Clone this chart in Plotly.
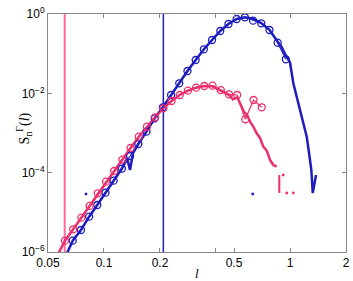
import plotly.graph_objects as go

# ---- data ----
blue_circ_x = [0.0679, 0.0752, 0.0832, 0.0920, 0.1019, 0.1127, 0.1248, 0.1381, 0.1529,
               0.1692, 0.1873, 0.2073, 0.2294, 0.2539, 0.2810, 0.3111, 0.3443, 0.3811,
               0.4218, 0.4668, 0.5167, 0.5719, 0.6330, 0.7006, 0.7754, 0.8582, 0.9499]
blue_circ_y = [1.93e-6, 3.59e-6, 7.77e-6, 1.53e-5, 3.13e-5, 6.28e-5, 1.27e-4, 2.63e-4, 5.28e-4,
               1.08e-3, 2.35e-3, 4.45e-3, 9.08e-3, 1.79e-2, 3.66e-2, 6.92e-2, 0.129, 0.221,
               0.373, 0.560, 0.748, 0.826, 0.678, 0.583, 0.395, 0.189, 0.0721]

blue_line_x = [0.0602, 0.0679, 0.0752, 0.0832, 0.0920, 0.1019, 0.1127, 0.1248, 0.1330, 0.1380,
               0.1432, 0.1529, 0.1692, 0.1873, 0.2073, 0.2294, 0.2539, 0.2810, 0.3111, 0.3443,
               0.3811, 0.4218, 0.4668, 0.5167, 0.5719, 0.6330, 0.7006, 0.7754, 0.8582, 0.9000,
               0.9499, 1.000, 1.042, 1.132, 1.230, 1.281, 1.302, 1.325, 1.350, 1.380]
blue_line_y = [5.6e-7, 1.93e-6, 3.59e-6, 7.77e-6, 1.53e-5, 3.13e-5, 6.28e-5, 1.27e-4, 2.34e-4, 1.17e-4,
               3.13e-4, 5.28e-4, 1.08e-3, 2.35e-3, 4.45e-3, 9.08e-3, 1.79e-2, 3.66e-2, 6.92e-2, 0.129,
               0.221, 0.373, 0.560, 0.748, 0.830, 0.760, 0.590, 0.400, 0.200, 0.150,
               0.090, 0.060, 0.0179, 3.8e-3, 8.07e-4, 2.09e-4, 1.17e-4, 3.08e-5, 5.0e-5, 8.74e-5]

pink_circ_x = [0.0617, 0.0683, 0.0756, 0.0837, 0.0926, 0.1025, 0.1134, 0.1255, 0.1389, 0.1538,
               0.1702, 0.1884, 0.2085, 0.2308, 0.2554, 0.2827, 0.3129, 0.3463, 0.3833, 0.4243,
               0.4696, 0.5197, 0.5752, 0.6367, 0.7047]
pink_circ_y = [1.93e-6, 3.74e-6, 7.33e-6, 1.45e-5, 3.02e-5, 5.93e-5, 1.10e-4, 2.14e-4, 4.19e-4, 8.07e-4,
               1.44e-3, 2.49e-3, 4.20e-3, 6.41e-3, 9.08e-3, 1.17e-2, 1.39e-2, 1.53e-2, 1.56e-2, 1.21e-2,
               9.46e-3, 9.08e-3, 2.22e-3, 6.79e-3, 4.45e-3]

pink_line_x = [0.0538, 0.0617, 0.0683, 0.0756, 0.0837, 0.0926, 0.1025, 0.1134, 0.1255, 0.1389,
               0.1538, 0.1702, 0.1884, 0.2085, 0.2308, 0.2554, 0.2827, 0.3129, 0.3463, 0.3833,
               0.4243, 0.4696, 0.4938, 0.5210, 0.5386, 0.5660, 0.5870, 0.6095, 0.6325, 0.6620,
               0.6900, 0.7186, 0.7496, 0.7810, 0.8134, 0.8480]
pink_line_y = [5.6e-7, 1.93e-6, 3.74e-6, 7.33e-6, 1.45e-5, 3.02e-5, 5.93e-5, 1.10e-4, 2.14e-4, 4.19e-4,
               8.07e-4, 1.44e-3, 2.49e-3, 4.20e-3, 6.41e-3, 9.08e-3, 1.17e-2, 1.39e-2, 1.53e-2, 1.50e-2,
               1.18e-2, 9.2e-3, 7.0e-3, 8.0e-3, 5.61e-3, 3.39e-3, 2.9e-3, 1.93e-3, 1.5e-3, 9.83e-4,
               7.5e-4, 4.52e-4, 3.6e-4, 2.09e-4, 1.56e-4, 1.42e-4]

pink_seg_x = [0.876, 0.876]
pink_seg_y = [3.08e-5, 8.74e-5]
pink_dot_x = [0.920, 0.960, 1.042]
pink_dot_y = [8.74e-5, 3.08e-5, 3.08e-5]
blue_dot_x = [0.080, 0.630]
blue_dot_y = [2.9e-5, 2.9e-5]

vline_pink = 0.0615
vline_blue = 0.2085

x_tickvals = [0.05, 0.1, 0.2, 0.4, 0.5, 1, 2]
x_ticktext = ["0.05", "0.1", "0.2", "", "0.5", "1", "2"]
y_tickvals = [1e-6, 1e-4, 1e-2, 1]
y_ticktext = ["10<sup>−6</sup>", "10<sup>−4</sup>", "10<sup>−2</sup>", "10<sup>0</sup>"]

BLUE = "#1c1cc0"
PINK = "#ec2f6c"
PINK_V = "#ff6a9c"

fig = go.Figure()
# vertical reference lines
fig.add_trace(go.Scatter(x=[vline_pink, vline_pink], y=[1e-7, 10], mode="lines",
                         line=dict(color=PINK_V, width=2), showlegend=False))
fig.add_trace(go.Scatter(x=[vline_blue, vline_blue], y=[1e-7, 10], mode="lines",
                         line=dict(color=BLUE, width=1.5), showlegend=False))
# solid curves
fig.add_trace(go.Scatter(x=blue_line_x, y=blue_line_y, mode="lines",
                         line=dict(color=BLUE, width=2.5), showlegend=False))
fig.add_trace(go.Scatter(x=pink_line_x, y=pink_line_y, mode="lines",
                         line=dict(color=PINK, width=2.5), showlegend=False))
# circle curves
fig.add_trace(go.Scatter(x=blue_circ_x, y=blue_circ_y, mode="lines+markers",
                         line=dict(color=BLUE, width=1.2),
                         marker=dict(symbol="circle-open", size=7, color=BLUE, line=dict(width=1.3)),
                         showlegend=False))
fig.add_trace(go.Scatter(x=pink_circ_x, y=pink_circ_y, mode="lines+markers",
                         line=dict(color=PINK, width=1.2),
                         marker=dict(symbol="circle-open", size=7, color=PINK, line=dict(width=1.3)),
                         showlegend=False))
# isolated pieces
fig.add_trace(go.Scatter(x=pink_seg_x, y=pink_seg_y, mode="lines",
                         line=dict(color=PINK, width=2), showlegend=False))
fig.add_trace(go.Scatter(x=pink_dot_x, y=pink_dot_y, mode="markers",
                         marker=dict(symbol="square", size=2.5, color=PINK), showlegend=False))
fig.add_trace(go.Scatter(x=blue_dot_x, y=blue_dot_y, mode="markers",
                         marker=dict(symbol="square", size=2.5, color=BLUE), showlegend=False))

axis_common = dict(showline=True, linecolor="#888888", linewidth=1, mirror="ticks",
                   ticks="inside", ticklen=4, tickcolor="#888888", showgrid=False,
                   zeroline=False, automargin=False,
                   tickfont=dict(family="Liberation Sans, Arial", size=12, color="black"))
fig.update_xaxes(type="log", range=[-1.30103, 0.30103], tickmode="array",
                 tickvals=x_tickvals, ticktext=x_ticktext, **axis_common)
fig.update_yaxes(type="log", range=[-6, 0], tickmode="array",
                 tickvals=y_tickvals, ticktext=y_ticktext, **axis_common)

fig.update_layout(
    width=353, height=281,
    margin=dict(l=48, r=7, t=14, b=29, autoexpand=False),
    plot_bgcolor="white", paper_bgcolor="white",
    annotations=[
        dict(text="<i>l</i>", xref="paper", yref="paper", x=0.5, y=-0.09, yanchor="middle",
             showarrow=False, font=dict(family="Liberation Serif", size=13, color="black")),
        dict(text="S<sub>n</sub><sup>Γ</sup>(<i>l</i>)", xref="paper", yref="paper",
             x=-0.08, y=0.52, xanchor="center", yanchor="middle", textangle=-90,
             showarrow=False, font=dict(family="Liberation Serif", size=14, color="black")),
    ],
)

fig.write_html("out.html", config={"displayModeBar": False},
               post_script="document.body.style.margin='0';")
